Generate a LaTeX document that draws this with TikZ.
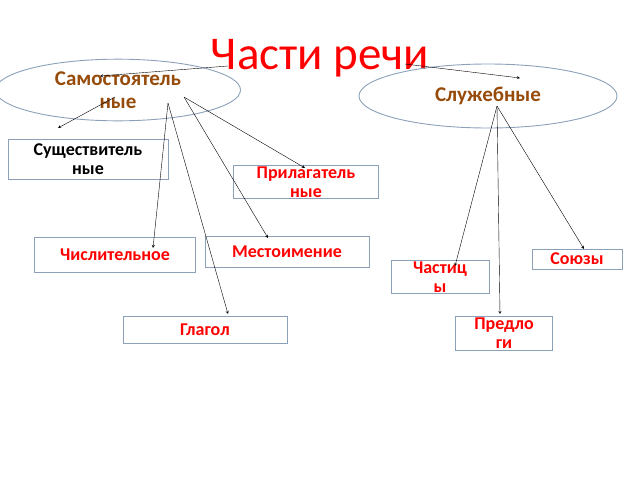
\documentclass[tikz,border=0pt]{standalone}
\usepackage{fontspec}
\setmainfont{Carlito}
\usetikzlibrary{shapes.geometric}
\definecolor{brd}{RGB}{140,160,185}
\definecolor{brn}{RGB}{150,75,10}
\tikzset{
  wordbox/.style={draw=brd,line width=0.9pt,text=red,font=\fontsize{18}{19}\selectfont\bfseries,align=center,inner sep=1pt},
  groupell/.style={draw=brd,line width=0.9pt,ellipse,text=brn,font=\fontsize{21}{23}\selectfont\bfseries,align=center},
  link/.style={->,>=stealth,thin}
}
\begin{document}
\begin{tikzpicture}[x=1pt,y=-1pt]
  \useasboundingbox (0,0) rectangle (640,480);
  \node[text=red,font=\fontsize{47}{47}\selectfont] (T) at (320,58) {Части речи};
  \node[groupell,minimum width=245,minimum height=50] (L) at (118,90) {Самостоятель\\ные};
  \node[groupell,minimum width=258,minimum height=64] (R) at (488,96) {Служебные};
  \node[wordbox,text=black,minimum width=160,minimum height=40] (Sus) at (88,159) {Существитель\\ные};
  \node[wordbox,minimum width=145,minimum height=29] (Pri) at (306,182) {Прилагатель\\ные};
  \node[wordbox,minimum width=161,minimum height=35] (Chi) at (115,255) {Числительное};
  \node[wordbox,minimum width=164,minimum height=31] (Mes) at (287,252) {Местоимение};
  \node[wordbox,minimum width=164,minimum height=27] (Gla) at (205,330) {Глагол};
  \node[wordbox,minimum width=90,minimum height=20] (Soy) at (577,259) {Союзы};
  \node[wordbox,minimum width=98,minimum height=26] (Cha) at (440,277) {Частиц\\ы};
  \node[wordbox,minimum width=97,minimum height=34] (Pre) at (504,333) {Предло\\ги};
  \coordinate (l0) at (168,103);
  \coordinate (l1) at (184,97);
  \coordinate (r0) at (497,106);
  \coordinate (t1) at (228,66);
  \coordinate (t2) at (405,64);
  \draw[link] (t1) -- (100,76);
  \draw[link] (t2) -- (520,78);
  \draw[link] (115,97) -- (58,128);
  \draw[link] (l0) -- (153,248);
  \draw[link] (l0) -- (228,314);
  \draw[link] (l1) -- (268,238);
  \draw[link] (l1) -- (305,168);
  \draw[link] (r0) -- (455,266);
  \draw[link] (r0) -- (500,314);
  \draw[link] (r0) -- (584,249);
\end{tikzpicture}
\end{document}
